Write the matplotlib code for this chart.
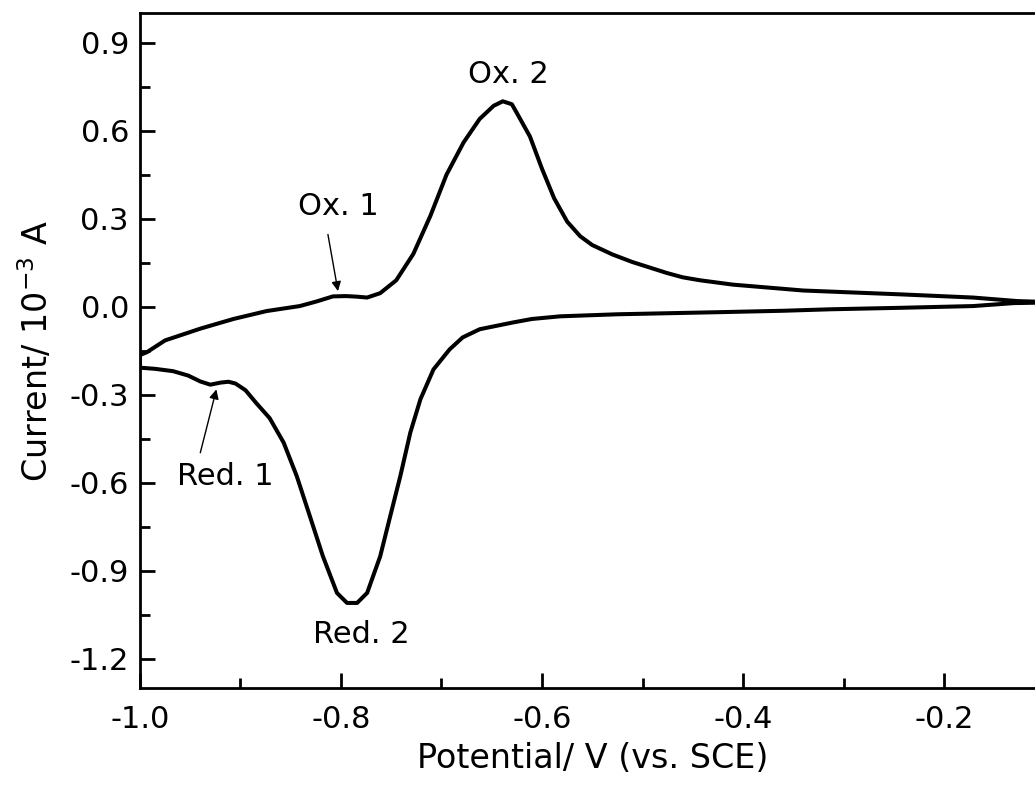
import matplotlib
matplotlib.use("Agg")
import matplotlib.pyplot as plt
from matplotlib.ticker import MultipleLocator
import numpy as np

plt.rcParams['font.family'] = ['DejaVu Sans']

# Anodic (forward) scan, left to right
anodic_potential = [-1.0, -0.993, -0.975, -0.94, -0.907, -0.874, -0.841, -0.824, -0.808, -0.795,
                    -0.784, -0.774, -0.761, -0.745, -0.728, -0.711, -0.695, -0.678, -0.662, -0.648,
                    -0.639, -0.63, -0.625, -0.612, -0.60, -0.588, -0.575, -0.562, -0.55, -0.53,
                    -0.51, -0.476, -0.46, -0.443, -0.41, -0.34, -0.244, -0.171, -0.127, -0.1]
anodic_current = [-0.165, -0.155, -0.115, -0.075, -0.042, -0.015, 0.002, 0.018, 0.035, 0.036,
                  0.034, 0.031, 0.046, 0.09, 0.18, 0.31, 0.45, 0.56, 0.64, 0.685,
                  0.70, 0.69, 0.66, 0.58, 0.47, 0.37, 0.29, 0.24, 0.21, 0.178,
                  0.152, 0.115, 0.1, 0.09, 0.075, 0.055, 0.042, 0.031, 0.019, 0.016]

# Cathodic (reverse) scan, right to left
cathodic_potential = [-0.1, -0.131, -0.171, -0.244, -0.313, -0.36, -0.426, -0.525, -0.582, -0.61,
                      -0.629, -0.662, -0.679, -0.692, -0.708, -0.721, -0.731, -0.741, -0.751, -0.761,
                      -0.774, -0.784, -0.794, -0.804, -0.818, -0.831, -0.844, -0.857, -0.871, -0.884,
                      -0.895, -0.905, -0.912, -0.92, -0.93, -0.94, -0.952, -0.967, -0.985, -1.0, -1.0]
cathodic_current = [0.014, 0.012, 0.002, -0.004, -0.009, -0.014, -0.019, -0.026, -0.033, -0.042,
                    -0.054, -0.077, -0.105, -0.146, -0.214, -0.316, -0.429, -0.578, -0.714, -0.851,
                    -0.976, -1.01, -1.01, -0.976, -0.851, -0.714, -0.578, -0.464, -0.38, -0.33,
                    -0.285, -0.262, -0.256, -0.259, -0.266, -0.255, -0.235, -0.22, -0.212, -0.208, -0.165]

xticks = [-1.0, -0.8, -0.6, -0.4, -0.2]
yticks = [-1.2, -0.9, -0.6, -0.3, 0.0, 0.3, 0.6, 0.9]

fig = plt.figure(figsize=(10.35, 7.89), dpi=100)
W, H = 1035, 789
left_px, right_px, top_px, bottom_px = 140, 1044.5, 13.3, 688
ax = fig.add_axes([left_px / W, 1 - bottom_px / H, (right_px - left_px) / W, (bottom_px - top_px) / H])

x = np.array(anodic_potential + cathodic_potential)
y = np.array(anodic_current + cathodic_current)
ax.plot(x, y, color='black', lw=2.9, solid_joinstyle='round', solid_capstyle='round')

ax.set_xlim(-1.0, -0.1)
ax.set_ylim(-1.3, 1.0)
ax.set_xticks(xticks)
ax.set_yticks(yticks)
ax.set_xticklabels([f"{v:.1f}" for v in xticks])
ax.set_yticklabels([f"{v:.1f}" for v in yticks])
ax.xaxis.set_minor_locator(MultipleLocator(0.1))
ax.yaxis.set_minor_locator(MultipleLocator(0.15))

for s in ax.spines.values():
    s.set_linewidth(2.0)
ax.spines['right'].set_visible(False)

ax.tick_params(which='major', direction='in', length=11, width=2.0, labelsize=22, pad=12)
ax.tick_params(axis='y', which='major', pad=8)
ax.tick_params(which='minor', direction='in', length=7, width=2.0)
ax.tick_params(top=False, right=False, which='both')

ax.set_xlabel('Potential/ V (vs. SCE)', fontsize=24, labelpad=6)
ax.set_ylabel('Current/ 10$^{-3}$ A', fontsize=24, labelpad=10)

fs = 22
arrow = dict(arrowstyle='-|>', color='black', lw=1.0, mutation_scale=14, shrinkA=0, shrinkB=0)
ax.text(-0.633, 0.792, 'Ox. 2', fontsize=fs, ha='center', va='center')
ax.text(-0.780, -1.118, 'Red. 2', fontsize=fs, ha='center', va='center')
ax.text(-0.803, 0.343, 'Ox. 1', fontsize=fs, ha='center', va='center')
ax.text(-0.915, -0.578, 'Red. 1', fontsize=fs, ha='center', va='center')
ax.annotate('', xy=(-0.803, 0.053), xytext=(-0.813, 0.246), arrowprops=arrow)
ax.annotate('', xy=(-0.924, -0.282), xytext=(-0.940, -0.498), arrowprops=arrow)

fig.savefig('out.png', dpi=100)
